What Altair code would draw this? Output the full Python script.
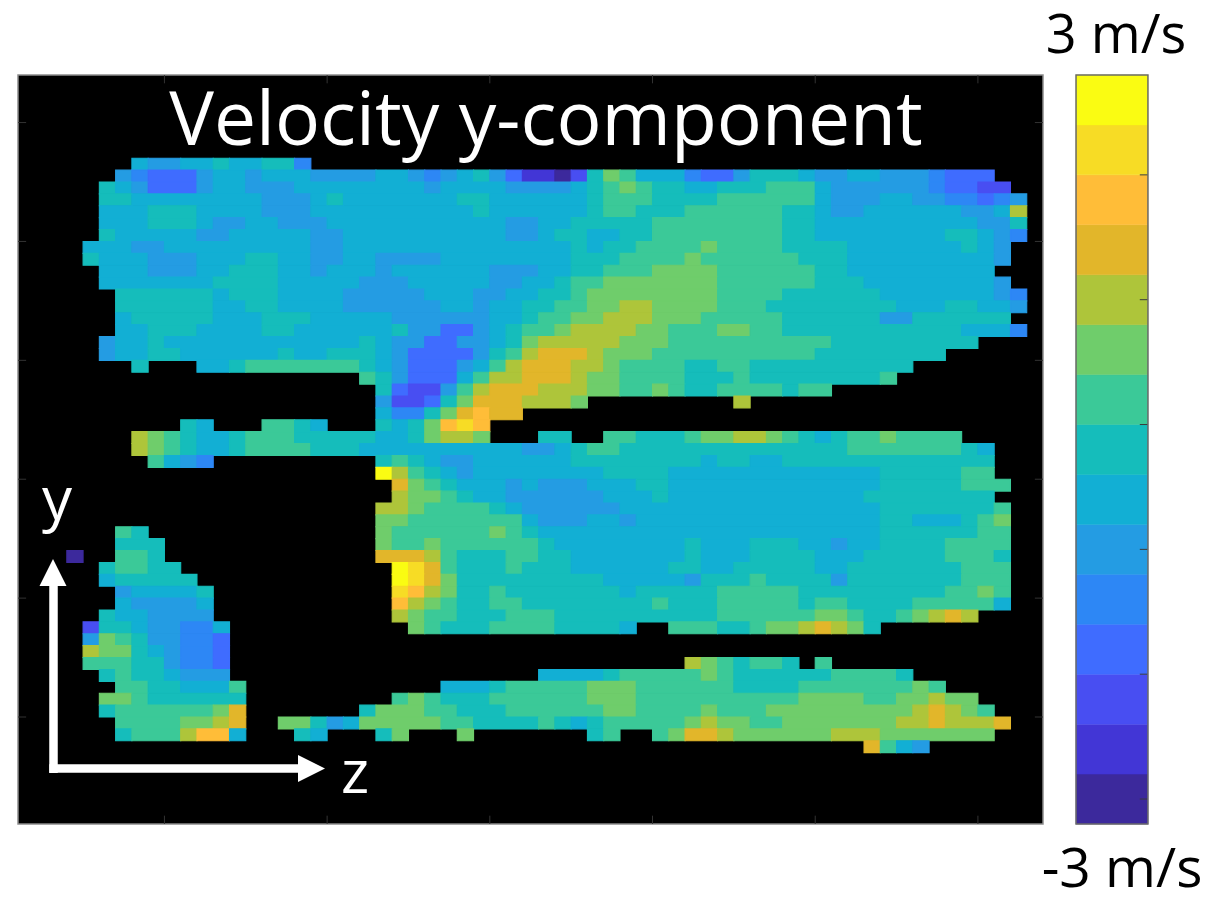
import altair as alt
import pandas as pd

GRID = 63
TOP_ROW = 7
COLORS = ["#3C299C", "#4236D6", "#484EF2", "#3F6CFF", "#2D87F5", "#249CE3", "#12AFD4", "#15BDBB",
          "#3BC998", "#6FCD6B", "#AEC53A", "#E2B62A", "#FFBD38", "#F7DC25", "#FAFC12"]
LEVELS = list("0123456789abcde")

# each row: "start_col:level" runs, '.' = no data; a run lasts until the next start
ROWS = [
"7:6 8:5 10:6 12:7 13:6 15:7 17:4 18:.",
"6:5 7:4 8:3 11:5 12:6 14:5 15:6 18:5 22:6 24:5 25:4 26:5 27:6 28:7 29:5 30:3 31:1 33:0 34:2 35:7 36:9 37:8 38:6 41:4 42:3 44:5 45:7 48:6 49:5 51:6 53:5 56:4 57:3 60:.",
"5:7 6:6 7:5 8:3 11:5 12:6 14:5 17:6 25:5 26:6 30:5 34:6 35:7 36:8 37:9 38:8 39:7 41:6 43:7 46:8 49:6 50:5 56:4 57:3 59:2 61:.",
"5:7 7:6 15:5 18:6 19:7 20:6 27:7 29:6 35:7 36:8 39:7 43:8 49:6 50:5 53:6 55:5 57:4 59:3 60:4 61:5 62:.",
"5:6 8:7 11:6 15:5 18:6 28:7 29:6 35:7 36:8 38:7 41:8 47:7 49:6 50:5 52:6 58:5 60:6 61:a 62:.",
"5:6 8:7 11:6 12:5 14:6 16:5 19:6 30:5 32:6 34:7 39:8 47:7 49:6 59:5 61:7 62:.",
"5:7 6:6 11:5 13:6 18:5 20:6 30:5 32:6 33:7 35:6 37:7 39:8 47:7 49:6 57:7 59:6 60:5 61:4 62:.",
"4:6 7:5 9:6 18:5 20:6 34:7 35:6 36:7 38:8 42:9 43:8 47:7 51:6 58:7 59:6 60:5 61:.",
"4:7 5:6 8:5 11:6 14:7 16:6 18:5 20:6 22:5 26:6 34:7 37:8 41:9 42:8 48:7 51:6 60:5 61:.",
"5:6 8:5 11:6 13:7 16:6 18:5 19:6 22:5 23:6 29:5 32:6 34:7 36:8 39:9 43:8 49:7 51:6 60:.",
"5:6 12:7 16:6 21:5 24:6 29:5 31:6 33:7 34:8 36:9 43:8 49:7 52:6 60:5 61:.",
"6:7 12:6 13:7 16:6 20:5 25:6 28:5 30:6 32:7 34:8 35:9 43:8 47:7 53:6 60:5 61:4 62:.",
"6:7 12:6 14:7 16:6 20:5 26:6 28:5 29:6 31:7 33:8 35:9 37:a 39:9 43:8 46:7 54:6 57:7 59:6 61:5 62:.",
"6:6 7:7 12:6 15:7 18:6 23:5 29:6 31:7 32:8 34:9 36:a 39:9 42:8 47:7 53:5 55:7 61:.",
"6:6 8:7 11:6 15:7 17:6 23:7 24:5 26:3 28:5 29:6 30:7 31:8 33:9 34:a 38:9 40:8 43:9 45:8 47:7 58:6 61:4 62:.",
"5:5 6:6 8:7 9:6 21:7 22:6 23:5 25:3 27:5 29:6 30:7 31:9 32:a 37:9 40:8 50:7 59:.",
"5:5 6:6 8:7 10:6 16:7 17:6 19:7 22:6 23:5 24:3 28:5 29:7 30:8 31:a 32:b 35:a 36:9 39:8 49:7 57:.",
"7:7 8:. 11:6 13:7 14:8 21:7 22:6 23:5 24:3 27:5 28:6 29:8 30:a 31:b 34:a 36:9 37:8 41:7 43:8 45:7 55:.",
"21:8 22:7 23:5 24:3 27:6 28:8 29:a 31:b 34:a 35:9 37:8 41:7 44:8 45:7 53:8 54:.",
"22:7 23:3 24:2 26:5 27:8 28:a 29:b 32:a 35:9 37:8 39:9 40:8 41:7 43:8 47:7 48:8 50:.",
"22:5 23:2 25:3 26:7 27:9 28:b 31:a 34:9 35:. 44:a 45:.",
"22:6 23:4 25:7 26:9 27:b 28:c 29:b 31:.",
"10:7 11:6 12:. 15:8 17:7 18:6 19:. 22:7 23:6 24:7 25:9 26:c 27:d 28:c 29:.",
"7:a 8:9 9:8 10:7 11:6 13:7 14:8 17:7 22:6 24:7 25:9 26:a 28:9 29:. 32:7 34:. 36:8 38:7 41:8 42:9 44:a 46:9 47:8 48:7 49:6 50:7 51:8 53:9 54:8 58:.",
"7:a 8:9 9:8 10:7 11:6 13:7 14:8 18:7 21:6 31:5 33:6 34:7 35:8 37:7 51:8 58:7 59:6 60:.",
"8:8 9:6 10:5 11:4 12:. 22:7 23:8 24:7 25:6 26:5 28:6 34:7 42:6 43:7 45:6 47:7 60:.",
"22:e 23:a 24:8 25:7 26:6 27:5 28:6 36:7 40:6 53:7 58:8 60:.",
"23:b 24:9 25:8 26:7 27:6 30:5 31:6 32:5 35:6 38:7 40:6 53:7 58:8 61:.",
"23:a 24:9 26:8 27:7 28:6 30:5 36:6 39:7 40:6 52:7 60:.",
"22:a 24:9 25:8 29:7 30:6 31:5 37:6 53:7 60:8 61:.",
"22:9 24:8 31:6 32:5 35:6 37:5 38:6 53:7 55:6 58:7 59:8 60:9 61:.",
"6:8 7:7 8:. 22:9 23:8 29:9 30:8 31:7 32:6 53:7 59:8 61:.",
"6:7 9:. 22:9 23:8 25:9 26:8 32:7 33:6 41:7 42:6 45:7 48:6 50:5 51:6 53:7 57:8 61:.",
"3:0 4:. 6:8 8:7 9:. 22:b 25:a 26:8 27:7 30:8 32:7 34:6 41:7 42:6 45:7 49:6 52:7 57:8 60:7 61:.",
"5:7 6:8 8:7 10:. 23:e 24:d 25:b 26:8 27:7 30:8 31:7 34:6 40:7 42:6 44:7 49:6 51:7 58:8 61:.",
"5:6 6:7 11:. 23:e 24:d 25:b 26:9 27:7 36:6 41:5 42:7 45:8 46:7 50:5 51:7 58:8 61:.",
"6:5 7:6 11:7 12:. 23:d 24:c 25:a 26:9 27:7 29:8 30:7 37:6 38:7 43:8 48:7 57:8 59:9 60:8 61:.",
"6:6 7:5 11:6 12:. 23:c 24:a 25:9 26:8 27:7 29:8 31:7 39:8 40:7 43:8 48:7 49:8 51:7 55:8 60:6 61:.",
"5:7 6:6 8:5 12:. 23:a 24:9 25:8 27:7 30:8 33:7 43:8 49:9 51:8 52:7 54:8 55:9 56:a 57:b 58:a 59:.",
"4:2 5:7 7:6 8:5 10:4 12:6 13:. 24:9 25:8 26:7 29:8 33:7 37:6 38:. 40:8 43:7 45:8 46:9 48:a 49:b 50:a 51:9 52:7 53:.",
"4:5 5:9 6:8 7:7 8:5 10:4 12:3 13:.",
"4:a 5:9 7:7 8:6 9:5 10:4 12:3 13:.",
"4:8 7:7 9:5 10:4 12:3 13:. 41:a 42:9 43:8 44:7 45:8 47:7 48:. 49:8 50:.",
"5:7 6:8 7:7 9:6 10:5 13:. 32:6 36:7 37:8 42:9 43:8 44:7 50:8 54:7 55:.",
"6:8 8:7 10:6 13:8 14:. 26:6 29:7 30:8 35:9 38:8 44:7 48:8 55:9 56:8 57:.",
"5:9 7:8 8:7 14:. 23:8 24:9 25:8 26:7 29:8 35:9 38:8 48:9 52:8 54:9 56:a 57:9 59:.",
"5:7 6:8 12:9 13:b 14:. 21:7 22:9 25:8 27:7 30:8 36:9 38:8 42:9 43:8 46:9 55:a 56:b 57:a 58:9 59:8 60:.",
"6:8 10:9 12:a 13:b 14:. 16:9 18:7 19:5 20:6 21:9 26:8 28:7 32:8 33:7 34:6 35:7 36:8 41:9 42:a 43:9 45:8 47:9 54:a 56:b 57:a 60:b 61:.",
"6:7 7:8 10:a 11:c 13:6 14:. 17:7 18:6 19:. 22:7 23:9 24:. 27:9 28:. 35:7 36:8 37:. 39:8 40:9 41:b 43:a 44:9 50:a 53:9 60:.",
"52:b 53:8 54:6 55:5 56:.",
]

X_TICKS = [9, 19, 29, 39, 49, 59]
Y_TICKS = [4, 14, 24, 34, 44, 54]
BAR_TICKS = [-2.8, -1.8, -0.8, 0.2, 1.2, 2.2]
BAR_X0, BAR_X1 = 65.03, 69.45
TICK_W, TICK_H = 0.5, 0.7

records = []
for i, row in enumerate(ROWS):
    runs = [t.split(":") for t in row.split()]
    for (a, lev), (b, _) in zip(runs, runs[1:]):
        if lev != ".":
            records.append({"c": int(a), "c2": int(b), "r": i + TOP_ROW, "r2": i + TOP_ROW + 1, "level": lev})
cells = pd.DataFrame(records)

xs = alt.Scale(domain=[0, GRID], nice=False, zero=False)
ys = alt.Scale(domain=[0, GRID], nice=False, zero=False, reverse=True)
vs = alt.Scale(domain=[-3, 3], nice=False, zero=False)
cs = alt.Scale(domain=LEVELS, range=COLORS)
X = lambda f: alt.X(f, type="quantitative", scale=xs, axis=None)
Y = lambda f: alt.Y(f, type="quantitative", scale=ys, axis=None)
V = lambda f: alt.Y(f, type="quantitative", scale=vs, axis=None)

back = alt.Chart(pd.DataFrame([{"x": 0, "x2": GRID, "y": 0, "y2": GRID}])).mark_rect(
    color="black", stroke="#8c8c8c", strokeWidth=1.5
).encode(x=X("x"), x2="x2", y=Y("y"), y2="y2")

heat = alt.Chart(cells).mark_rect(strokeWidth=1.1).encode(
    x=X("c"), x2="c2", y=Y("r"), y2="r2",
    color=alt.Color("level:N", scale=cs, legend=None),
    stroke=alt.Stroke("level:N", scale=cs, legend=None),
)

tk = []
for t in X_TICKS:
    tk.append({"x": t, "x2": t, "y": 0, "y2": TICK_H})
    tk.append({"x": t, "x2": t, "y": GRID - TICK_H, "y2": GRID})
for t in Y_TICKS:
    tk.append({"x": 0, "x2": TICK_W, "y": t, "y2": t})
    tk.append({"x": GRID - TICK_W, "x2": GRID, "y": t, "y2": t})
ticks = alt.Chart(pd.DataFrame(tk)).mark_rule(color="#333333", strokeWidth=1).encode(
    x=X("x"), x2="x2", y=Y("y"), y2="y2")

bands = pd.DataFrame([{"v": -3 + 0.4 * i, "v2": -3 + 0.4 * (i + 1), "level": LEVELS[i],
                       "x": BAR_X0, "x2": BAR_X1} for i in range(15)])
bar = alt.Chart(bands).mark_rect(strokeWidth=0.5).encode(
    x=X("x"), x2="x2", y=V("v"), y2="v2",
    color=alt.Color("level:N", scale=cs, legend=None),
    stroke=alt.Stroke("level:N", scale=cs, legend=None),
)
bar_frame = alt.Chart(pd.DataFrame([{"x": BAR_X0, "x2": BAR_X1, "v": -3, "v2": 3}])).mark_rect(
    fillOpacity=0, stroke="#6a6a6a", strokeWidth=1.5
).encode(x=X("x"), x2="x2", y=V("v"), y2="v2")
bar_ticks = alt.Chart(pd.DataFrame([{"x": BAR_X1 - 0.5, "x2": BAR_X1, "v": t} for t in BAR_TICKS])).mark_rule(
    color="#3a3a3a", strokeWidth=1
).encode(x=X("x"), x2="x2", y=V("v"))

one = alt.Data(values=[{}])
FONT = "Open Sans"
def label(txt, px, py, size, color, align="center"):
    return alt.Chart(one).mark_text(font=FONT, fontSize=size, color=color, align=align, baseline="alphabetic",
                                    text=txt).encode(x=alt.value(px), y=alt.value(py))

# page position minus view origin (18, 74)
title = label("Velocity y-component", 528, 70, 75, "white")
lab_y = label("y", 39, 445, 60, "white")
lab_z = label("z", 337, 718, 60, "white")
lab_top = label("3 m/s", 1098, -22, 54, "black")
lab_bot = label("-3 m/s", 1104, 812, 55, "black")

def rule(x, y, x2=None, y2=None):
    enc = dict(x=alt.value(x), y=alt.value(y))
    if x2 is not None:
        enc["x2"] = alt.value(x2)
    if y2 is not None:
        enc["y2"] = alt.value(y2)
    return alt.Chart(one).mark_rule(color="white", strokeWidth=8.5).encode(**enc)

def head(path, x, y):
    return alt.Chart(one).mark_point(shape=path, filled=True, size=729, color="white", opacity=1).encode(
        x=alt.value(x), y=alt.value(y))

arrow_v = rule(35.5, 698, y2=510)
arrow_h = rule(31.3, 693.5, x2=282)
head_v = head("M-1,1L0,-1L1,1Z", 35, 497.5)
head_h = head("M-1,-1L1,0L-1,1Z", 293.5, 693.5)

chart = alt.layer(
    back, heat, ticks, bar, bar_ticks, bar_frame,
    title, lab_y, lab_z, lab_top, lab_bot, arrow_v, arrow_h, head_v, head_h,
).resolve_scale(y="independent").properties(
    width=1025, height=749,
    padding={"left": 9, "top": 2, "right": 8, "bottom": 8},
    background="white",
).configure_view(stroke=None)

chart.save("out.html", embed_options={"renderer": "svg", "actions": False})
